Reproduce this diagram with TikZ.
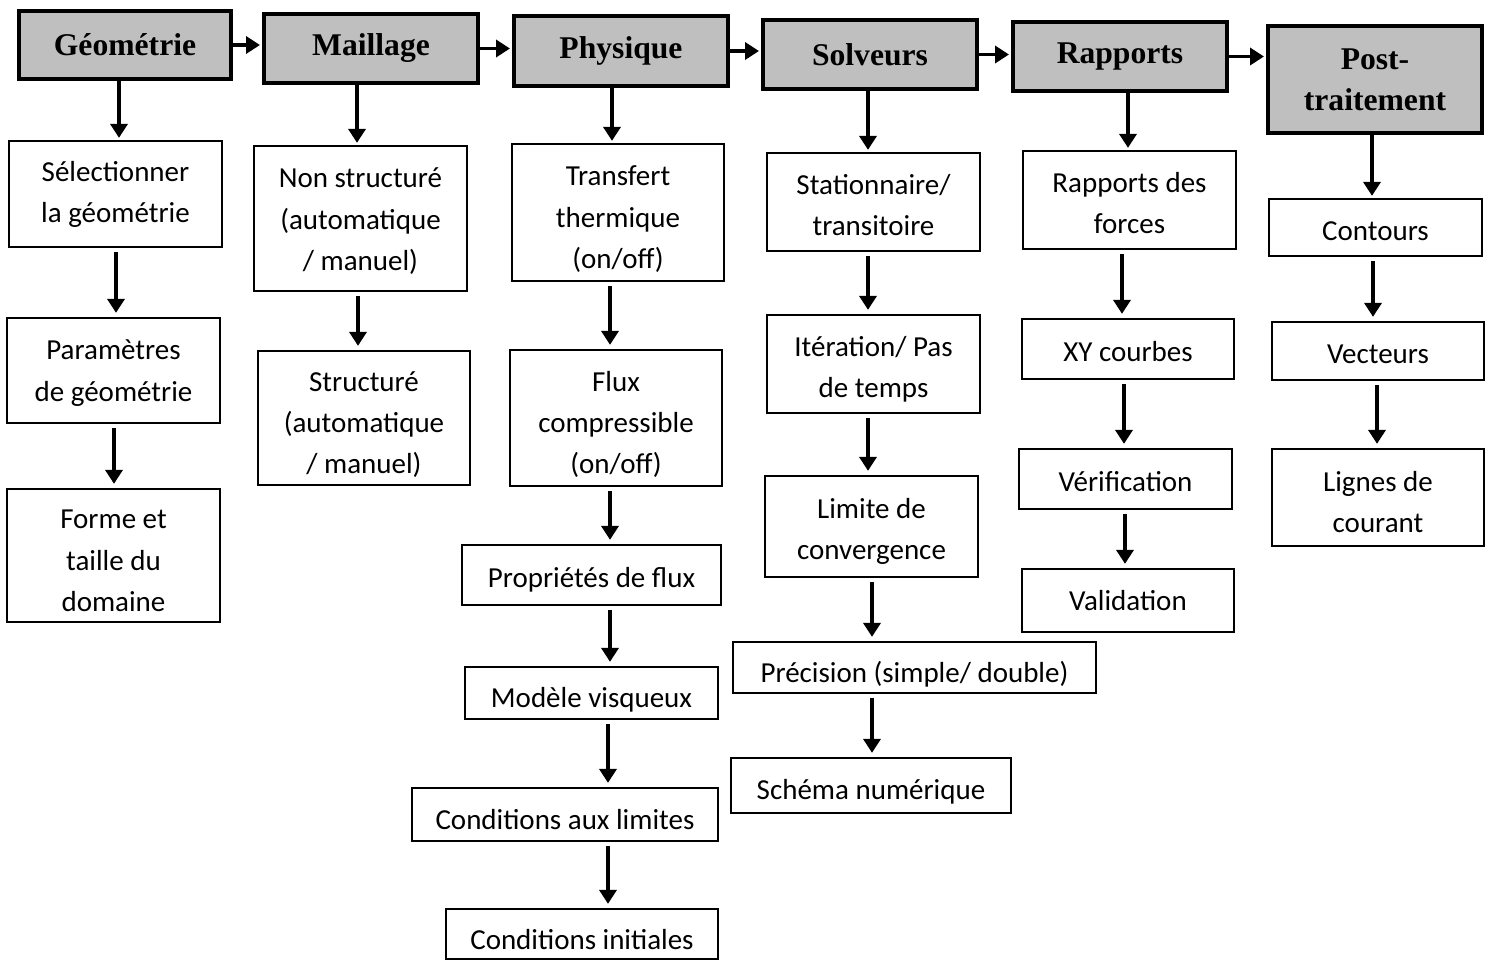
\documentclass[tikz,border=0pt]{standalone}
\usepackage{fontspec}
\setmainfont{Carlito}
\newfontfamily\hdrfont{Liberation Serif}
\usetikzlibrary{arrows.meta}
\definecolor{hdrgray}{RGB}{191,191,191}
\tikzset{
  box/.style={draw, line width=0.046cm, fill=white, inner sep=0pt,
    font=\fontsize{16.5}{23.5}\selectfont},
  hdr/.style={draw, line width=0.08cm, fill=hdrgray, align=center, inner sep=0pt,
    font=\hdrfont\bfseries\fontsize{18}{23.3}\selectfont},
  arr/.style={line width=0.07cm, -{Triangle[width=0.34cm,length=0.28cm]}},
  harr/.style={arr, shorten >=0.04cm},
  carr/.style={arr, shorten <=0.08cm, shorten >=0.08cm},
}
\newcommand\hx[6]{\node[hdr, minimum width={(#4-#2)*0.02cm}, minimum height={(#5-#3)*0.02cm}] (#1) at ({(#2+#4)/2},{(#3+#5)/2}) {#6};}
\newcommand\bx[7][-2.6pt]{\node[box, minimum width={(#5-#3)*0.02cm}, minimum height={(#6-#4)*0.02cm}] (#2) at ({(#3+#5)/2},{(#4+#6)/2}) {\raisebox{#1}[\height][\depth]{\begin{tabular}{@{}c@{}}#7\end{tabular}}};}
\newcommand\varr[4]{\coordinate (tmp) at (#4,0); \draw[#1] (tmp |- #2.south) -- (tmp |- #3.north);}
\begin{document}
\begin{tikzpicture}[x=0.02cm, y=-0.02cm]
\useasboundingbox (0,0) rectangle (1491,961);
% headers
\hx{geo}{19}{11}{231}{79}{Géométrie}
\hx{mai}{264}{14}{478}{83}{Maillage}
\hx{phy}{514}{16}{728}{86}{Physique}
\hx{sol}{763}{20}{977}{89}{Solveurs}
\hx{rap}{1013}{22}{1227}{91}{Rapports}
\hx{pos}{1268}{26}{1482}{133}{Post-\\traitement}
% column 1
\bx[0pt]{sel}{9}{141}{222}{247}{Sélectionner\\la géométrie}
\bx[-1pt]{par}{7}{318}{220}{423}{Paramètres\\de géométrie}
\bx[-3.6pt]{frm}{7}{489}{220}{622}{Forme et\\taille du\\domaine}
% column 2
\bx[-1.4pt]{nst}{254}{146}{467}{291}{Non structuré\\(automatique\\/ manuel)}
\bx[-3.6pt]{str}{258}{351}{470}{485}{Structuré\\(automatique\\/ manuel)}
% column 3
\bx[-3.6pt]{tra}{512}{144}{724}{281}{Transfert\\thermique\\(on/off)}
\bx[-3.6pt]{flu}{510}{350}{722}{486}{Flux\\compressible\\(on/off)}
\bx{pro}{462}{545}{721}{605}{Propriétés de flux}
\bx[-3.6pt]{mod}{465}{667}{718}{719}{Modèle visqueux}
\bx[-3.6pt]{cl}{412}{788}{718}{841}{Conditions aux limites}
\bx[-4.2pt]{ci}{446}{909}{718}{959}{Conditions initiales}
% column 4
\bx{sta}{767}{153}{980}{251}{Stationnaire/\\transitoire}
\bx{ite}{767}{315}{980}{413}{Itération/ Pas\\de temps}
\bx{lim}{765}{476}{978}{577}{Limite de\\convergence}
\bx[-3.6pt]{pre}{733}{642}{1096}{693}{Précision (simple/ double)}
\bx[-3.2pt]{sch}{731}{758}{1011}{813}{Schéma numérique}
% column 5
\bx{rdf}{1023}{151}{1236}{249}{Rapports des\\forces}
\bx{xy}{1022}{319}{1234}{379}{XY courbes}
\bx{ver}{1019}{449}{1232}{509}{Vérification}
\bx[-1pt]{val}{1022}{569}{1234}{632}{Validation}
% column 6
\bx{con}{1269}{199}{1482}{256}{Contours}
\bx{vec}{1272}{322}{1484}{380}{Vecteurs}
\bx[-3.6pt]{lig}{1272}{449}{1484}{546}{Lignes de\\courant}
% horizontal arrows
\draw[harr] (geo.east) -- (geo.east -| mai.west);
\draw[harr] (mai.east) -- (mai.east -| phy.west);
\draw[harr] (phy.east) -- (phy.east -| sol.west);
\draw[harr] (sol.east) -- (sol.east -| rap.west);
\draw[harr] (rap.east) -- (rap.east -| pos.west);
% vertical arrows
\varr{harr}{geo}{sel}{119}
\varr{carr}{sel}{par}{116}
\varr{carr}{par}{frm}{114}
\varr{harr}{mai}{nst}{357}
\varr{carr}{nst}{str}{358}
\varr{harr}{phy}{tra}{612}
\varr{carr}{tra}{flu}{610}
\varr{carr}{flu}{pro}{610}
\varr{carr}{pro}{mod}{610}
\varr{carr}{mod}{cl}{608}
\varr{carr}{cl}{ci}{608}
\varr{harr}{sol}{sta}{868}
\varr{carr}{sta}{ite}{868}
\varr{carr}{ite}{lim}{868}
\varr{carr}{lim}{pre}{872}
\varr{carr}{pre}{sch}{872}
\varr{harr}{rap}{rdf}{1128}
\varr{carr}{rdf}{xy}{1122}
\varr{carr}{xy}{ver}{1124}
\varr{carr}{ver}{val}{1125}
\varr{harr}{pos}{con}{1372}
\varr{carr}{con}{vec}{1373}
\varr{carr}{vec}{lig}{1377}
\end{tikzpicture}
\end{document}
